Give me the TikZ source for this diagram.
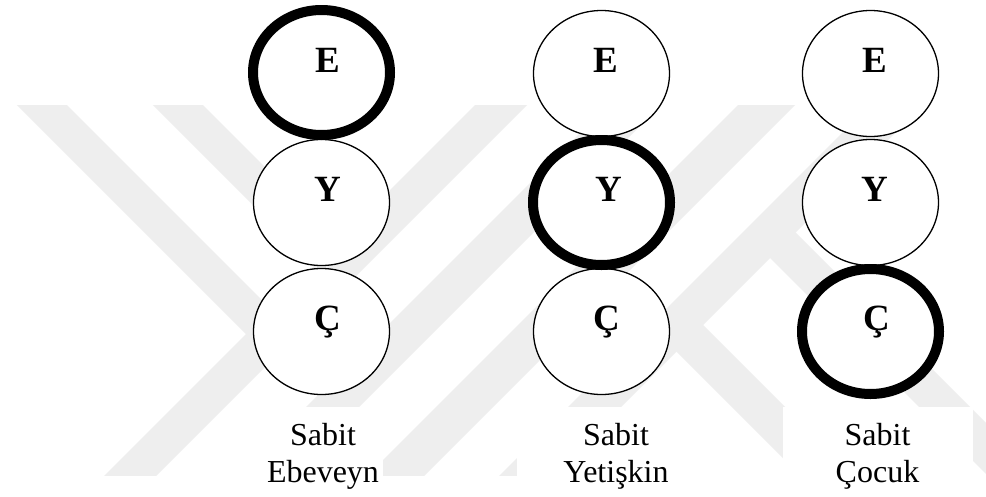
\documentclass[tikz,border=0pt]{standalone}
\usepackage{fontspec}
\setmainfont{Liberation Serif}
\usetikzlibrary{shapes.geometric,calc}
\definecolor{wm}{RGB}{238,238,238}
\begin{document}
\begin{tikzpicture}[x=1pt,y=-1pt,
  ring/.style={ellipse, draw=black, fill=white, line width=1.3pt, minimum width=136pt, minimum height=126pt, inner sep=0pt},
  boldring/.style={ellipse, draw=black, fill=white, line width=10pt, minimum width=137pt, minimum height=125pt, inner sep=0pt},
  letter/.style={font=\fontsize{37}{40}\selectfont\bfseries, inner sep=0pt, anchor=base},
  lbl/.style={font=\fontsize{32}{37}\selectfont, inner sep=0pt, anchor=base},
  stripe/.style={fill=wm}
]
\useasboundingbox (0,0) rectangle (986,496);
\fill[white] (0,0) rectangle (986,496);
% faint background watermark
\begin{scope}
  \clip (0,105) rectangle (986,475);
  \fill[stripe] (480,100) -- (532,100) -- (152,480) -- (100,480) -- cycle;
  \fill[stripe] (613,100) -- (666,100) -- (286,480) -- (233,480) -- cycle;
  \fill[stripe] (743,100) -- (800,100) -- (420,480) -- (363,480) -- cycle;
  \fill[stripe] (875,100) -- (928,100) -- (548,480) -- (495,480) -- cycle;
  \fill[stripe] (12,100) -- (62,100) -- (284,322) -- (259,347) -- cycle;
  \fill[stripe] (148,100) -- (198,100) -- (352,254) -- (327,279) -- cycle;
  \fill[stripe] (663,338) -- (689.5,311.5) -- (858,480) -- (805,480) -- cycle;
  \fill[stripe] (756.5,244.5) -- (782,219) -- (1043,480) -- (992,480) -- cycle;
\end{scope}
% white label areas
\fill[white] (230,407) rectangle (383,496);
\fill[white] (517,407) rectangle (690,496);
\fill[white] (783,407) rectangle (973,496);
% thin ellipses
\node[ring] (y1) at (321.5,202.5) {};
\node[ring] (c1) at (321.5,331.5) {};
\node[ring] (e2) at (601.5,73.5) {};
\node[ring] (c2) at (601.5,331.5) {};
\node[ring] (e3) at (870.5,73.5) {};
\node[ring] (y3) at (870.5,202.5) {};
% thick ellipses
\node[boldring] (e1) at (321.5,72.5) {};
\node[boldring] (y2) at (601.5,202.5) {};
\node[boldring] (c3) at (870.5,331.5) {};
% letters
\node[letter] (e1t) at ($(e1.center)+(6,-0.5)$) {E};
\node[letter] (y1t) at ($(y1.center)+(6,-1.5)$) {Y};
\node[letter] (c1t) at ($(c1.center)+(6,-1.5)$) {Ç};
\node[letter] (e2t) at ($(e2.center)+(4,-1.5)$) {E};
\node[letter] (y2t) at ($(y2.center)+(7,-1.5)$) {Y};
\node[letter] (c2t) at ($(c2.center)+(5,-1.5)$) {Ç};
\node[letter] (e3t) at ($(e3.center)+(4,-1.5)$) {E};
\node[letter] (y3t) at ($(y3.center)+(4,-1.5)$) {Y};
\node[letter] (c3t) at ($(c3.center)+(6,-1.5)$) {Ç};
% labels
\node[lbl] (l1a) at (323,445) {Sabit};
\node[lbl] (l1b) at (323,482) {Ebeveyn};
\node[lbl] (l2a) at (616,445) {Sabit};
\node[lbl] (l2b) at (616,482) {Yetişkin};
\node[lbl] (l3a) at (877.5,445) {Sabit};
\node[lbl] (l3b) at (877.5,482) {Çocuk};
\end{tikzpicture}
\end{document}
